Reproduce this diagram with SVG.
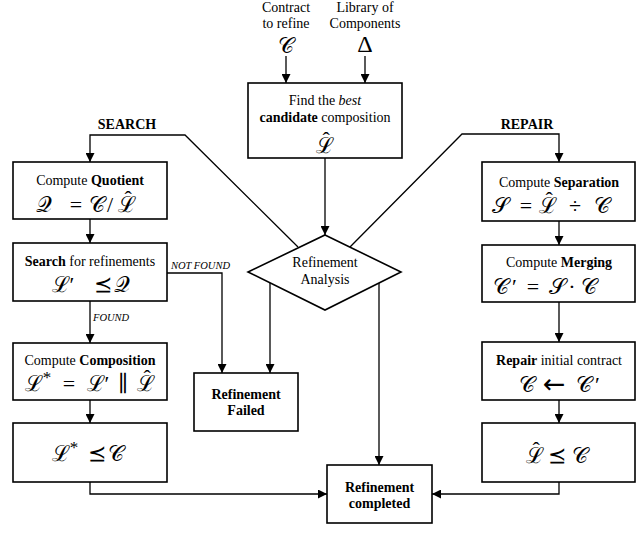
<svg xmlns="http://www.w3.org/2000/svg" width="640" height="552" viewBox="0 0 640 552">
<style>
.box{fill:#fff;stroke:#000;stroke-width:1.6}
.ln{fill:none;stroke:#000;stroke-width:1.3}
.ar{marker-end:url(#ah)}
text{font-family:"Liberation Serif","Times New Roman",serif;fill:#000;text-anchor:middle}
.t{font-size:14px}
.b{font-weight:bold}
.i{font-style:italic}
.m{font-family:"Liberation Serif","DejaVu Serif",serif;font-size:22px}
.st{text-anchor:start}
.h{font-family:"Liberation Serif",serif;font-size:22px}
.s{font-family:"Liberation Serif",serif;font-size:17px}
.arw{font-family:"DejaVu Sans",sans-serif;font-size:27px}
.lbl{font-size:10.5px;font-style:italic;text-anchor:start}
</style>
<defs>
<marker id="ah" viewBox="0 0 10 10" refX="10" refY="5" markerWidth="9" markerHeight="9" markerUnits="userSpaceOnUse" orient="auto">
<path d="M0,0 L10,5 L0,10 Z" fill="#000"/>
</marker>
</defs>
<rect width="640" height="552" fill="#fff"/>

<g id="connectors">
<line class="ln ar" x1="286" y1="56" x2="286" y2="83"/>
<line class="ln ar" x1="365" y1="56" x2="365" y2="83"/>
<line class="ln ar" x1="325" y1="158" x2="325" y2="235"/>
<polyline class="ln ar" points="298,247 185,135 90,135 90,162"/>
<polyline class="ln ar" points="350,247 462,134 559,134 559,162"/>
<line class="ln ar" x1="90" y1="219" x2="90" y2="243"/>
<line class="ln ar" x1="90" y1="301" x2="90" y2="343"/>
<line class="ln ar" x1="90" y1="400" x2="90" y2="423"/>
<polyline class="ln ar" points="90,482 90,494 327,494"/>
<polyline class="ln ar" points="167,273 222,273 222,373"/>
<line class="ln ar" x1="270" y1="283" x2="270" y2="373"/>
<line class="ln ar" x1="379" y1="283" x2="379" y2="465"/>
<line class="ln ar" x1="559" y1="221" x2="559" y2="245"/>
<line class="ln ar" x1="559" y1="302" x2="559" y2="342"/>
<line class="ln ar" x1="559" y1="400" x2="559" y2="423"/>
<polyline class="ln ar" points="559,482 559,494 432,494"/>
<text class="lbl" x="171" y="269">NOT FOUND</text>
<text class="lbl" x="93" y="321">FOUND</text>
<text class="t b" x="127" y="129">SEARCH</text>
<text class="t b" x="527" y="129">REPAIR</text>
</g>

<g id="inputs">
<text class="t" x="286" y="12">Contract</text>
<text class="t" x="286" y="28">to refine</text>
<text class="m" x="286" y="53">𝒞</text>
<text class="t" x="365" y="12">Library of</text>
<text class="t" x="365" y="28">Components</text>
<text class="m" x="365" y="52" style="font-size:24px">Δ</text>
</g>

<g id="candidate">
<rect class="box" x="248" y="83" width="154" height="75"/>
<text class="t" x="325" y="105">Find the <tspan class="i">best</tspan></text>
<text class="t" x="325" y="122"><tspan class="b">candidate</tspan> composition</text>
<text class="m st" x="315.5" y="153">ℒ<tspan class="h" dx="-11" dy="-6">ˆ</tspan></text>
</g>

<g id="analysis">
<polygon class="box" points="325,235 401,272 325,310 248,272"/>
<text class="t" x="325" y="267">Refinement</text>
<text class="t" x="325" y="284">Analysis</text>
</g>

<g id="quotient">
<rect class="box" x="13" y="162" width="154" height="57"/>
<text class="t" x="90" y="185">Compute <tspan class="b">Quotient</tspan></text>
<text class="m" x="44" y="212">𝒬</text>
<text class="m" x="76" y="212">=</text>
<text class="m" x="97" y="212">𝒞</text>
<text class="m" x="110" y="212">/</text>
<text class="m st" x="117.5" y="212">ℒ<tspan class="h" dx="-11" dy="-6">ˆ</tspan></text>
</g>

<g id="search">
<rect class="box" x="13" y="243" width="154" height="58"/>
<text class="t" x="90" y="266"><tspan class="b">Search</tspan> for refinements</text>
<text class="m" x="63" y="292">ℒ′</text>
<text class="m" x="103" y="292">⪯</text>
<text class="m" x="122" y="292">𝒬</text>
</g>

<g id="composition">
<rect class="box" x="13" y="343" width="154" height="57"/>
<text class="t" x="90" y="365">Compute <tspan class="b">Composition</tspan></text>
<text class="m" x="38" y="391">ℒ<tspan class="s" dy="-8">*</tspan></text>
<text class="m" x="69" y="391">=</text>
<text class="m" x="98" y="391">ℒ′</text>
<text class="m" x="123" y="391">∥</text>
<text class="m st" x="136.5" y="391">ℒ<tspan class="h" dx="-11" dy="-6">ˆ</tspan></text>
</g>

<g id="checkL">
<rect class="box" x="13" y="423" width="154" height="59"/>
<text class="m" x="65" y="461">ℒ<tspan class="s" dy="-8">*</tspan></text>
<text class="m" x="97" y="461">⪯</text>
<text class="m" x="116" y="461">𝒞</text>
</g>

<g id="failed">
<rect class="box" x="194" y="373" width="104" height="58"/>
<text class="t b" x="246" y="399">Refinement</text>
<text class="t b" x="246" y="415">Failed</text>
</g>

<g id="completed">
<rect class="box" x="327" y="465" width="105" height="58"/>
<text class="t b" x="379.5" y="492">Refinement</text>
<text class="t b" x="379.5" y="508">completed</text>
</g>

<g id="separation">
<rect class="box" x="482" y="162" width="153" height="59"/>
<text class="t" x="559" y="187">Compute <tspan class="b">Separation</tspan></text>
<text class="m" x="500" y="213">𝒮</text>
<text class="m" x="526" y="213">=</text>
<text class="m st" x="538.5" y="213">ℒ<tspan class="h" dx="-11" dy="-6">ˆ</tspan></text>
<text class="m" x="575" y="213">÷</text>
<text class="m" x="602" y="213">𝒞</text>
</g>

<g id="merging">
<rect class="box" x="482" y="245" width="153" height="57"/>
<text class="t" x="559" y="267">Compute <tspan class="b">Merging</tspan></text>
<text class="m" x="505" y="294">𝒞<tspan dx="3">′</tspan></text>
<text class="m" x="533" y="294">=</text>
<text class="m" x="557" y="294">𝒮</text>
<text class="m" x="572" y="294">·</text>
<text class="m" x="589" y="294">𝒞</text>
</g>

<g id="repair">
<rect class="box" x="482" y="342" width="153" height="58"/>
<text class="t" x="559" y="365"><tspan class="b">Repair</tspan> initial contract</text>
<text class="m" x="527" y="392">𝒞</text>
<text class="arw" x="554" y="393">←</text>
<text class="m" x="588" y="392">𝒞<tspan dx="3">′</tspan></text>
</g>

<g id="checkR">
<rect class="box" x="482" y="423" width="153" height="59"/>
<text class="m st" x="525.5" y="463">ℒ<tspan class="h" dx="-11" dy="-6">ˆ</tspan></text>
<text class="m" x="557" y="463">⪯</text>
<text class="m" x="580" y="463">𝒞</text>
</g>
</svg>
